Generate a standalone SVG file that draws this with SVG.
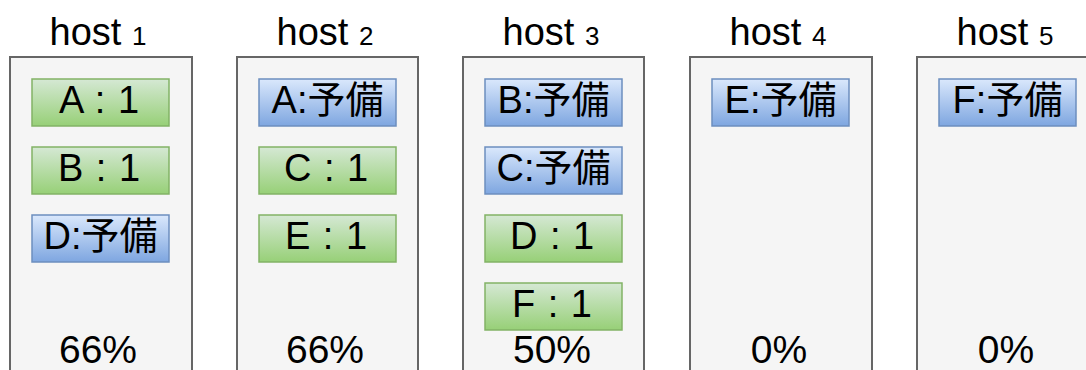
<svg xmlns="http://www.w3.org/2000/svg" width="1086" height="370" viewBox="0 0 1086 370">
<defs>
<linearGradient id="gG" x1="0" y1="0" x2="0" y2="1"><stop offset="0" stop-color="#d5e8d4"/><stop offset="1" stop-color="#97d077"/></linearGradient>
<linearGradient id="gB" x1="0" y1="0" x2="0" y2="1"><stop offset="0" stop-color="#dae8fc"/><stop offset="1" stop-color="#7ea6e0"/></linearGradient>
<style>
.host{fill:#f5f5f5;stroke:#666666;stroke-width:2}
.g{fill:url(#gG);stroke:#82b366;stroke-width:1.5}
.b{fill:url(#gB);stroke:#6c8ebf;stroke-width:1.5}
text{font-family:"Liberation Sans","Noto Sans CJK JP",sans-serif;fill:#000;text-anchor:middle}
.t{font-size:38px}
.n{font-size:26px}
.l{font-size:38px;word-spacing:2px}
.p{font-size:39px}
</style>
</defs>
<g id="host1">
<text class="t" x="98" y="45">host <tspan class="n">1</tspan></text>
<rect class="host" x="10" y="57" width="182" height="330"/>
<text class="p" x="98" y="363">66%</text>
</g>
<g id="host2">
<text class="t" x="325" y="45">host <tspan class="n">2</tspan></text>
<rect class="host" x="237" y="57" width="181" height="330"/>
<text class="p" x="325" y="363">66%</text>
</g>
<g id="host3">
<text class="t" x="551" y="45">host <tspan class="n">3</tspan></text>
<rect class="host" x="463" y="57" width="181" height="330"/>
<text class="p" x="552" y="363">50%</text>
</g>
<g id="host4">
<text class="t" x="778" y="45">host <tspan class="n">4</tspan></text>
<rect class="host" x="690" y="57" width="182" height="330"/>
<text class="p" x="779" y="363">0%</text>
</g>
<g id="host5">
<text class="t" x="1005" y="45">host <tspan class="n">5</tspan></text>
<rect class="host" x="917" y="57" width="182" height="330"/>
<text class="p" x="1006" y="363">0%</text>
</g>
<g id="h1A"><rect class="g" x="32" y="79" width="137" height="47"/><text class="l" x="99" y="113">A : 1</text></g>
<g id="h1B"><rect class="g" x="32" y="147" width="137" height="47"/><text class="l" x="99" y="181">B : 1</text></g>
<g id="h1D"><rect class="b" x="32" y="215" width="137" height="47"/><text class="l" x="100.5" y="249">D:予備</text></g>
<g id="h2A"><rect class="b" x="259" y="79" width="137" height="47"/><text class="l" x="327.5" y="113">A:予備</text></g>
<g id="h2C"><rect class="g" x="259" y="147" width="137" height="47"/><text class="l" x="326" y="181">C : 1</text></g>
<g id="h2E"><rect class="g" x="259" y="215" width="137" height="47"/><text class="l" x="326" y="249">E : 1</text></g>
<g id="h3B"><rect class="b" x="485" y="79" width="137" height="47"/><text class="l" x="553.5" y="113">B:予備</text></g>
<g id="h3C"><rect class="b" x="485" y="147" width="137" height="47"/><text class="l" x="553.5" y="181">C:予備</text></g>
<g id="h3D"><rect class="g" x="485" y="215" width="137" height="47"/><text class="l" x="552" y="249">D : 1</text></g>
<g id="h3F"><rect class="g" x="485" y="283" width="137" height="47"/><text class="l" x="552" y="317">F : 1</text></g>
<g id="h4E"><rect class="b" x="712" y="79" width="137" height="47"/><text class="l" x="780.5" y="113">E:予備</text></g>
<g id="h5F"><rect class="b" x="939" y="79" width="137" height="47"/><text class="l" x="1007.5" y="113">F:予備</text></g>
<g id="connectors"/>
</svg>
